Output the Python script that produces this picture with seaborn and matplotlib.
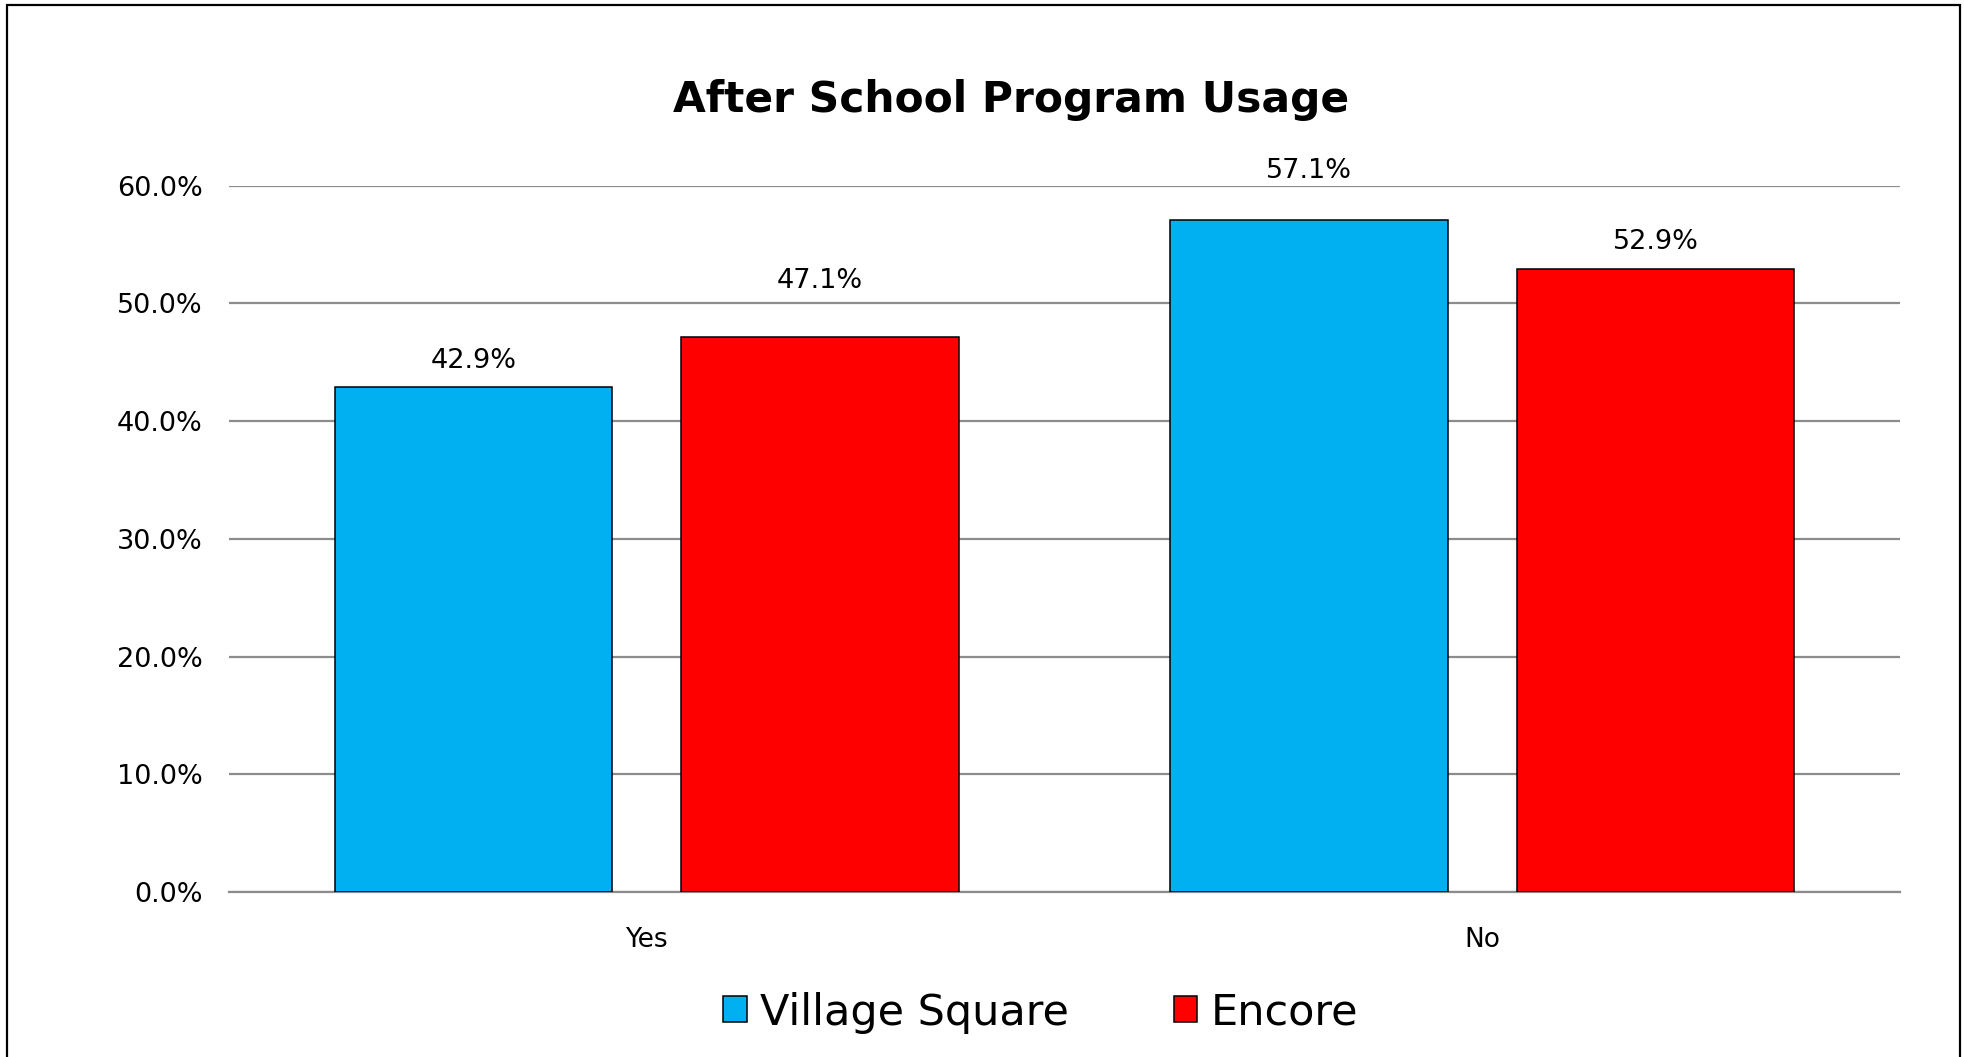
import numpy as np
import pandas as pd
import seaborn as sns
import matplotlib.pyplot as plt
from matplotlib.patches import Rectangle, Patch

categories = ["Yes", "No"]
series_names = ["Village Square", "Encore"]
village_square = [0.429, 0.571]
encore = [0.471, 0.529]
colors = ["#00B0F0", "#FF0000"]
yticks = [0.0, 0.1, 0.2, 0.3, 0.4, 0.5, 0.6]
# label distance above each bar (pixels), per series, as placed in the original
label_offsets = [[26, 49], [56, 27]]

df = pd.DataFrame({
    "answer": categories * 2,
    "site": [series_names[0]] * 2 + [series_names[1]] * 2,
    "share": village_square + encore,
})

sns.set_style("white")
plt.rcParams["font.family"] = ["DejaVu Sans"]
plt.rcParams["text.color"] = "black"
plt.rcParams["xtick.color"] = "black"
plt.rcParams["ytick.color"] = "black"

fig = plt.figure(figsize=(19.65, 10.57), dpi=100)
ax = fig.add_axes([0.1165, 0.1561, 0.8504, 0.6684])

sns.barplot(data=df, x="answer", y="share", hue="site", order=categories,
            hue_order=series_names, palette=colors, width=0.83, gap=0.2,
            edgecolor="black", linewidth=1.1, saturation=1, errorbar=None,
            legend=False, ax=ax, zorder=3)

ax.set_xlim(-0.5, 1.5)
ax.set_ylim(0, 0.6)
ax.set_yticks(yticks)
ax.set_yticklabels([f"{v * 100:.1f}%" for v in yticks])
ax.yaxis.grid(True, color="#8c8c8c", linewidth=1.6, zorder=0)
ax.set_axisbelow(True)
for s in ["top", "right", "left"]:
    ax.spines[s].set_visible(False)
ax.spines["bottom"].set_color("#8c8c8c")
ax.spines["bottom"].set_linewidth(1.6)
ax.tick_params(axis="y", length=0, pad=19, labelsize=19.5, labelcolor="black")
ax.tick_params(axis="x", length=0, pad=25, labelsize=19, labelcolor="black")
ax.set_xlabel("")
ax.set_ylabel("")

for bars, offs in zip(ax.containers, label_offsets):
    for bar, off in zip(bars, offs):
        h = bar.get_height()
        ax.annotate(f"{h * 100:.1f}%", (bar.get_x() + bar.get_width() / 2, h),
                    xytext=(0, off * 0.72), textcoords="offset points",
                    ha="center", va="center", fontsize=19.5, color="black",
                    annotation_clip=False)

fig.text(0.5145, 0.905, "After School Program Usage", ha="center", va="center",
         fontsize=30.5, fontweight="bold", color="black")

handles = [Patch(facecolor=c, edgecolor="black", linewidth=1.1) for c in colors]
leg = fig.legend(handles, series_names, loc="center", bbox_to_anchor=(0.5295, 0.042),
                 ncol=2, frameon=False, fontsize=31, handlelength=0.55, handleheight=0.55,
                 handletextpad=0.3, columnspacing=2.44)
for t in leg.get_texts():
    t.set_color("black")

fig.patches.append(Rectangle((7.5 / 1965, -0.1), (1960 - 7.5) / 1965, 1.1 - 4.5 / 1057,
                             transform=fig.transFigure, fill=False,
                             edgecolor="black", linewidth=1.6, figure=fig))

fig.savefig("out.png", dpi=100)
